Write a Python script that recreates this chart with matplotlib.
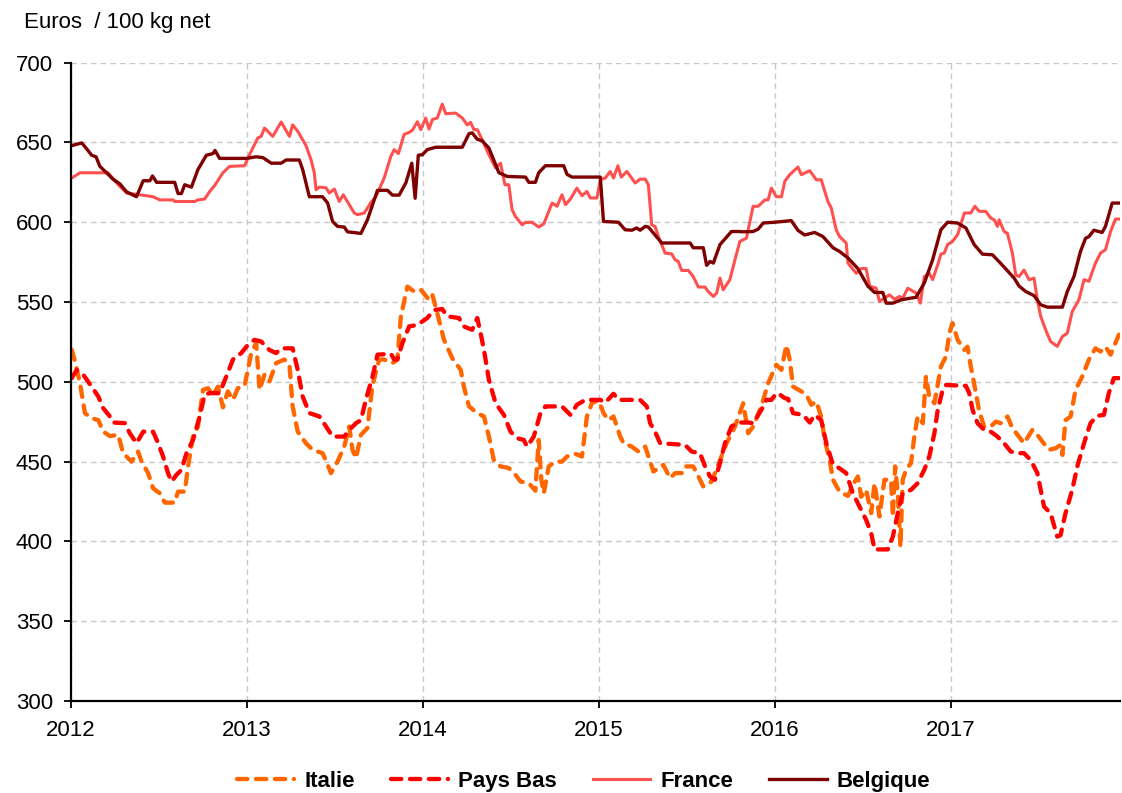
import matplotlib.pyplot as plt

plt.rcParams['font.family'] = ['Liberation Sans', 'DejaVu Sans']

# ---- data (decimal year, euros / 100 kg net) ----
italie_x = [2012.004, 2012.023, 2012.051, 2012.079, 2012.117, 2012.155, 2012.183, 2012.221, 2012.268, 2012.296,
            2012.344, 2012.381, 2012.401, 2012.438, 2012.466, 2012.504, 2012.533, 2012.589, 2012.608, 2012.646,
            2012.665, 2012.693, 2012.721, 2012.750, 2012.778, 2012.806, 2012.835, 2012.863, 2012.891, 2012.920,
            2012.948, 2012.986, 2013.024, 2013.052, 2013.071, 2013.099, 2013.127, 2013.165, 2013.212, 2013.241,
            2013.259, 2013.288, 2013.335, 2013.373, 2013.429, 2013.458, 2013.477, 2013.514, 2013.552, 2013.581,
            2013.599, 2013.619, 2013.647, 2013.684, 2013.713, 2013.751, 2013.779, 2013.826, 2013.854, 2013.874,
            2013.911, 2013.949, 2013.987, 2014.034, 2014.053, 2014.081, 2014.119, 2014.166, 2014.214, 2014.232,
            2014.261, 2014.308, 2014.346, 2014.374, 2014.402, 2014.440, 2014.487, 2014.525, 2014.554, 2014.601,
            2014.638, 2014.657, 2014.672, 2014.686, 2014.714, 2014.752, 2014.789, 2014.818, 2014.865, 2014.903,
            2014.912, 2014.931, 2014.959, 2014.997, 2015.025, 2015.054, 2015.082, 2015.120, 2015.139, 2015.186,
            2015.224, 2015.262, 2015.309, 2015.365, 2015.403, 2015.432, 2015.469, 2015.488, 2015.535, 2015.564,
            2015.592, 2015.639, 2015.677, 2015.724, 2015.772, 2015.819, 2015.847, 2015.875, 2015.922, 2015.960,
            2016.007, 2016.036, 2016.064, 2016.083, 2016.102, 2016.149, 2016.177, 2016.206, 2016.234, 2016.262,
            2016.282, 2016.310, 2016.329, 2016.366, 2016.414, 2016.442, 2016.470, 2016.489, 2016.517, 2016.546,
            2016.565, 2016.593, 2016.621, 2016.659, 2016.669, 2016.682, 2016.697, 2016.712, 2016.725, 2016.744,
            2016.772, 2016.791, 2016.810, 2016.839, 2016.857, 2016.876, 2016.905, 2016.942, 2016.971, 2016.990,
            2017.008, 2017.037, 2017.075, 2017.093, 2017.112, 2017.141, 2017.160, 2017.188, 2017.225, 2017.254,
            2017.282, 2017.320, 2017.348, 2017.377, 2017.414, 2017.462, 2017.490, 2017.518, 2017.556, 2017.594,
            2017.622, 2017.632, 2017.650, 2017.679, 2017.707, 2017.745, 2017.783, 2017.820, 2017.849, 2017.877,
            2017.906, 2017.953]
italie_y = [520, 512.7, 499, 480.4, 477.2, 476, 468.8, 466, 466.8, 455.3,
            450, 456.3, 450, 442.8, 433.3, 430.2, 424.3, 424.3, 431.2, 431.2,
            447, 465.7, 472, 495, 496, 491.8, 497, 484, 494, 488.7,
            496, 497.5, 518, 524.3, 495, 504.4, 500.2, 511.7, 514, 510.7,
            484.6, 468.8, 461.5, 457.4, 455.3, 448, 442.8, 450, 459.4, 472,
            457.4, 452.1, 466.8, 471, 498, 514, 514, 511.7, 514, 541,
            559.7, 556.6, 557.7, 551.4, 554.5, 543, 526.3, 514.8, 507.5, 497,
            484.6, 480.4, 478.3, 465.7, 451, 447, 446, 441.7, 437.5, 436.5,
            431.8, 463.6, 438.6, 430.2, 447, 450, 450, 453.2, 454.9, 453.2,
            461.5, 478.3, 486.6, 488.7, 480.4, 476, 478.3, 465.7, 461.5, 459.4,
            456.3, 459.4, 443.8, 448, 439.7, 442.8, 442.8, 447, 447, 440.7,
            434.4, 437.5, 448, 461.5, 472, 486.6, 467.8, 472, 484.6, 499,
            510.7, 507.5, 523, 514, 497, 494, 492, 485.6, 487.7, 478.3,
            463.6, 451, 438.6, 431.2, 428.5, 435.4, 440.7, 428, 432.3, 417.7,
            436.5, 415.6, 438.6, 438.6, 415.6, 447, 430.2, 396.7, 438.6, 445,
            449, 465.7, 478.3, 474.1, 503.3, 490.7, 486.6, 509.6, 516, 530.5,
            536.8, 526.3, 520, 522, 509.6, 492.9, 481.4, 472, 472, 475.1,
            474.1, 478.3, 471, 466.8, 461.5, 469.9, 466.8, 462.6, 457.4, 458.4,
            460.5, 454.2, 476, 478.3, 495, 503.3, 514, 521, 519, 522,
            517, 529.5]

paysbas_x = [2012.004, 2012.032, 2012.070, 2012.117, 2012.155, 2012.183, 2012.221, 2012.240, 2012.306, 2012.334,
             2012.372, 2012.410, 2012.466, 2012.495, 2012.523, 2012.551, 2012.571, 2012.599, 2012.627, 2012.656,
             2012.693, 2012.731, 2012.759, 2012.788, 2012.844, 2012.882, 2012.920, 2012.967, 2013.005, 2013.042,
             2013.080, 2013.127, 2013.165, 2013.194, 2013.259, 2013.288, 2013.316, 2013.354, 2013.411, 2013.449,
             2013.486, 2013.552, 2013.581, 2013.619, 2013.647, 2013.675, 2013.713, 2013.741, 2013.817, 2013.836,
             2013.854, 2013.883, 2013.921, 2013.968, 2014.024, 2014.062, 2014.109, 2014.138, 2014.204, 2014.232,
             2014.279, 2014.308, 2014.327, 2014.346, 2014.374, 2014.412, 2014.459, 2014.497, 2014.534, 2014.572,
             2014.591, 2014.629, 2014.667, 2014.695, 2014.789, 2014.837, 2014.874, 2014.922, 2015.007, 2015.035,
             2015.082, 2015.110, 2015.233, 2015.271, 2015.290, 2015.318, 2015.347, 2015.488, 2015.526, 2015.573,
             2015.602, 2015.630, 2015.658, 2015.687, 2015.715, 2015.752, 2015.790, 2015.847, 2015.875, 2015.922,
             2015.951, 2015.979, 2016.007, 2016.027, 2016.055, 2016.074, 2016.102, 2016.159, 2016.197, 2016.225,
             2016.262, 2016.291, 2016.329, 2016.366, 2016.404, 2016.442, 2016.480, 2016.517, 2016.546, 2016.565,
             2016.640, 2016.669, 2016.697, 2016.725, 2016.772, 2016.810, 2016.848, 2016.876, 2016.905, 2016.924,
             2016.952, 2016.971, 2017.084, 2017.103, 2017.122, 2017.150, 2017.188, 2017.225, 2017.263, 2017.301,
             2017.339, 2017.377, 2017.414, 2017.452, 2017.490, 2017.528, 2017.565, 2017.603, 2017.622, 2017.650,
             2017.688, 2017.717, 2017.755, 2017.792, 2017.830, 2017.868, 2017.896, 2017.924, 2017.953]
paysbas_y = [502.3, 507.5, 504.4, 497, 490.8, 483.5, 478.3, 474.5, 474.1, 467.8,
             461.5, 468.8, 468.8, 461.5, 453.2, 442.8, 437.5, 441.7, 444.8, 455.3,
             463.6, 478.3, 492, 492.9, 492.9, 503.3, 514, 518, 523.2, 526.3,
             525.3, 520, 518, 521, 521, 507.5, 490.8, 480.4, 478.3, 472,
             465.7, 465.7, 469.9, 474.1, 476, 488.7, 503.3, 517, 517.6, 514,
             514, 524.3, 534.7, 535.7, 540, 545, 545.6, 541, 540, 534.7,
             532.6, 540, 530.5, 520, 501.3, 486.6, 479.3, 468.8, 464.7, 463.6,
             459.4, 465.7, 480.4, 484.6, 484.6, 479.3, 485.6, 488.7, 488.7, 487,
             492.5, 488.7, 488.7, 484.6, 474.1, 468.8, 461.5, 460.5, 456.3, 455.3,
             447, 440.7, 438.6, 449, 461.5, 472, 474.5, 474.5, 474.1, 482.4,
             488.7, 488.7, 492.9, 492, 489.8, 489.3, 480.4, 479.3, 474.5, 479.3,
             476, 461.5, 448, 445.8, 442.8, 430.2, 421.8, 413.5, 405.2, 395,
             395, 403, 417.7, 430.2, 432.3, 436.5, 445, 453.2, 467.8, 482.4,
             495, 498, 497.5, 492.9, 482.4, 474.1, 469.9, 468.8, 465.7, 461.5,
             456.3, 455.3, 455.3, 451, 442.8, 421.8, 417.7, 403, 404, 417.7,
             432.3, 447, 461.5, 474.1, 478.7, 479.3, 492.9, 502.3, 502.3]

france_x = [2012.004, 2012.051, 2012.211, 2012.268, 2012.316, 2012.391, 2012.466, 2012.504, 2012.580, 2012.589,
            2012.703, 2012.721, 2012.759, 2012.788, 2012.816, 2012.863, 2012.901, 2012.986, 2013.014, 2013.061,
            2013.080, 2013.099, 2013.146, 2013.194, 2013.241, 2013.259, 2013.288, 2013.335, 2013.364, 2013.382,
            2013.392, 2013.411, 2013.449, 2013.467, 2013.496, 2013.524, 2013.547, 2013.609, 2013.628, 2013.666,
            2013.704, 2013.732, 2013.779, 2013.817, 2013.836, 2013.860, 2013.892, 2013.921, 2013.939, 2013.968,
            2013.987, 2014.015, 2014.034, 2014.053, 2014.081, 2014.109, 2014.129, 2014.185, 2014.223, 2014.251,
            2014.270, 2014.289, 2014.308, 2014.336, 2014.374, 2014.412, 2014.440, 2014.465, 2014.487, 2014.506,
            2014.525, 2014.563, 2014.582, 2014.619, 2014.657, 2014.686, 2014.733, 2014.761, 2014.789, 2014.809,
            2014.837, 2014.874, 2014.903, 2014.931, 2014.950, 2014.988, 2015.007, 2015.035, 2015.063, 2015.082,
            2015.107, 2015.126, 2015.158, 2015.205, 2015.233, 2015.262, 2015.280, 2015.299, 2015.318, 2015.337,
            2015.375, 2015.412, 2015.432, 2015.450, 2015.469, 2015.507, 2015.535, 2015.564, 2015.602, 2015.620,
            2015.649, 2015.668, 2015.687, 2015.705, 2015.743, 2015.772, 2015.800, 2015.837, 2015.875, 2015.904,
            2015.942, 2015.960, 2015.979, 2016.007, 2016.036, 2016.055, 2016.083, 2016.130, 2016.149, 2016.197,
            2016.234, 2016.262, 2016.300, 2016.319, 2016.347, 2016.366, 2016.404, 2016.414, 2016.461, 2016.489,
            2016.517, 2016.537, 2016.574, 2016.593, 2016.650, 2016.678, 2016.707, 2016.725, 2016.754, 2016.801,
            2016.825, 2016.848, 2016.876, 2016.895, 2016.924, 2016.942, 2016.961, 2016.980, 2017.008, 2017.037,
            2017.075, 2017.112, 2017.135, 2017.160, 2017.197, 2017.225, 2017.245, 2017.263, 2017.273, 2017.301,
            2017.320, 2017.348, 2017.367, 2017.386, 2017.414, 2017.443, 2017.471, 2017.490, 2017.509, 2017.537,
            2017.565, 2017.603, 2017.632, 2017.660, 2017.688, 2017.726, 2017.755, 2017.783, 2017.820, 2017.849,
            2017.877, 2017.906, 2017.934, 2017.953]
france_y = [627.7, 631, 631, 623.5, 618.3, 617.2, 616, 614, 614, 613,
            613, 614, 614.5, 619.3, 623, 631, 635, 635.4, 642.3, 652.8,
            653.8, 659, 653.8, 662.8, 653.8, 661, 657, 648, 639, 631,
            620.4, 622, 621.6, 618.3, 620.8, 613, 617.2, 605.8, 604.7, 605.8,
            612.4, 616, 627.7, 641.3, 645.5, 643, 655, 656.3, 657.6, 663,
            658, 665.3, 658.4, 664.4, 665.3, 674, 668, 668.4, 665.3, 661,
            662.6, 658, 658, 651.7, 642.3, 634, 637, 623.5, 623.5, 607.8,
            603.6, 598.4, 599.9, 600, 597, 599, 612, 610, 617.2, 611,
            614.5, 621.4, 616.6, 619.3, 615.2, 615.2, 626.6, 627.7, 631.8, 627.7,
            635.4, 628.3, 631.8, 624.6, 627, 627, 623.5, 598.4, 597.4, 591,
            580.7, 580.2, 576.5, 575.4, 569.8, 569.8, 566, 559.4, 559.4, 556.6,
            553.5, 555.6, 565, 557.7, 564, 576.5, 588, 590, 610, 610,
            614, 614, 621.4, 616, 616, 625.6, 629.8, 634.6, 629.8, 632.3,
            626.6, 626.6, 613, 609, 595.3, 591, 587, 574.4, 568, 571,
            571, 560, 558.7, 550.4, 554.5, 551.8, 553.5, 552.4, 558.7, 555.6,
            549.3, 566, 568, 564, 573.4, 580, 580.7, 586, 588, 592.2,
            605.8, 605.8, 610, 606.8, 606.8, 602.6, 601.5, 597.4, 601.5, 594.2,
            593, 580.7, 567, 566, 570, 564, 565, 551.4, 541, 532.6,
            525.3, 522.2, 528.4, 530.5, 544, 551.4, 564, 563, 574.4, 580.7,
            582.8, 594.2, 602, 602]

belgique_x = [2012.004, 2012.061, 2012.089, 2012.117, 2012.142, 2012.164, 2012.202, 2012.238, 2012.278, 2012.316,
              2012.372, 2012.410, 2012.448, 2012.463, 2012.486, 2012.589, 2012.608, 2012.627, 2012.646, 2012.684,
              2012.721, 2012.769, 2012.806, 2012.818, 2012.844, 2012.995, 2013.052, 2013.090, 2013.137, 2013.194,
              2013.222, 2013.297, 2013.316, 2013.354, 2013.429, 2013.458, 2013.486, 2013.514, 2013.552, 2013.571,
              2013.647, 2013.684, 2013.741, 2013.798, 2013.826, 2013.864, 2013.902, 2013.936, 2013.955, 2013.973,
              2013.996, 2014.024, 2014.072, 2014.223, 2014.261, 2014.279, 2014.308, 2014.336, 2014.374, 2014.431,
              2014.478, 2014.582, 2014.601, 2014.638, 2014.657, 2014.695, 2014.799, 2014.818, 2014.846, 2015.007,
              2015.025, 2015.110, 2015.148, 2015.186, 2015.214, 2015.233, 2015.262, 2015.280, 2015.318, 2015.356,
              2015.517, 2015.535, 2015.592, 2015.611, 2015.630, 2015.649, 2015.687, 2015.752, 2015.790, 2015.819,
              2015.875, 2015.904, 2015.932, 2015.998, 2016.092, 2016.130, 2016.168, 2016.225, 2016.272, 2016.329,
              2016.366, 2016.414, 2016.470, 2016.527, 2016.565, 2016.612, 2016.631, 2016.669, 2016.716, 2016.801,
              2016.848, 2016.895, 2016.942, 2016.980, 2017.037, 2017.084, 2017.131, 2017.178, 2017.235, 2017.292,
              2017.358, 2017.386, 2017.424, 2017.471, 2017.509, 2017.547, 2017.632, 2017.660, 2017.698, 2017.735,
              2017.764, 2017.783, 2017.811, 2017.858, 2017.877, 2017.915, 2017.953]
belgique_y = [648, 649.7, 646, 642, 641, 635, 631, 627, 624, 619,
              616, 626, 626, 629, 625, 625, 618, 618, 623.5, 622,
              633, 642, 643, 645, 640, 640, 641, 640.5, 637, 637,
              639, 639, 633, 616, 616, 612, 600.5, 597.4, 597, 594,
              593, 601.5, 620, 620, 617, 617, 624.6, 637, 615, 642,
              642.3, 645.5, 647, 647, 655.5, 656, 652, 651, 646.5, 631,
              628.7, 628.3, 625, 625, 631, 635.4, 635.4, 630, 628.3, 628.3,
              600.5, 600, 595.3, 595, 596.4, 595, 597.4, 597, 592, 587,
              587, 584, 584, 573, 575.4, 574.4, 586, 594.2, 594.2, 594,
              594.2, 595.7, 599.5, 600, 601, 594.9, 592, 593.6, 591, 584,
              581.7, 577.6, 571, 560, 556, 556, 549.3, 549.3, 551.4, 553,
              562, 576.5, 595.3, 600, 599.5, 596.4, 586, 580, 579.6, 573,
              565, 560, 556.6, 554, 548.3, 546.8, 546.8, 556.6, 566, 581.7,
              590, 591, 595, 593.6, 597.4, 612, 612]

year_ticks = [2012, 2013, 2014, 2015, 2016, 2017]
value_ticks = [300, 350, 400, 450, 500, 550, 600, 650, 700]

fig = plt.figure(figsize=(11.22, 7.93), dpi=100)
ax = fig.add_axes([0.0633, 0.116, 0.935, 0.805])

ax.plot(italie_x, italie_y, color='#FF6600', lw=3.1, dashes=(2.4, 2.0),
        dash_capstyle='round', label='Italie')
ax.plot(paysbas_x, paysbas_y, color='#FF0000', lw=3.1, dashes=(2.4, 2.0),
        dash_capstyle='round', label='Pays Bas')
ax.plot(france_x, france_y, color='#FF5050', lw=2.2, label='France')
ax.plot(belgique_x, belgique_y, color='#7F0000', lw=2.4, label='Belgique')

ax.set_xlim(2012, 2017.96)
ax.set_ylim(300, 700)
ax.set_xticks(year_ticks)
ax.set_xticklabels([str(y) for y in year_ticks])
ax.set_yticks(value_ticks)

ax.grid(True, color='#C8C8C8', linestyle=(0, (4, 3)), linewidth=1.0)
ax.set_axisbelow(True)
for s in ['top', 'right']:
    ax.spines[s].set_visible(False)
ax.spines['left'].set_linewidth(1.6)
ax.spines['bottom'].set_linewidth(1.6)
ax.tick_params(axis='both', direction='out', length=5, width=1.3, labelsize=16, colors='black')
ax.tick_params(axis='y', pad=8)
ax.tick_params(axis='x', pad=9)

fig.text(0.021, 0.972, 'Euros  / 100 kg net', fontsize=16, va='center', ha='left')

leg = fig.legend(loc='center', bbox_to_anchor=(0.52, 0.015), ncol=4, frameon=False,
                 prop={'size': 16, 'weight': 'bold'}, handlelength=2.6, handletextpad=0.45,
                 columnspacing=1.6, borderaxespad=0)

fig.savefig('out.png', dpi=100)
print("Done")
